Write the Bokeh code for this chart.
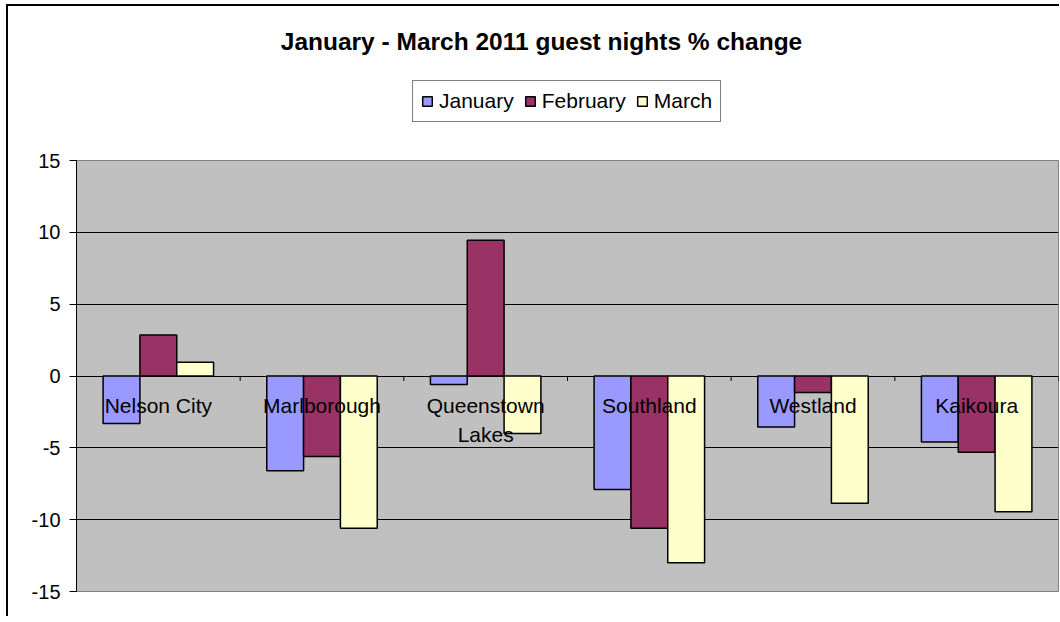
import math
from bokeh.plotting import figure
from bokeh.layouts import column
from bokeh.models import (ColumnDataSource, FactorRange, Range1d, FixedTicker,
                          Legend, LegendItem, Label, PrintfTickFormatter)
from bokeh.transform import dodge
from bokeh.core.properties import value
from bokeh.embed import file_html
from bokeh.resources import INLINE

# ---- data ----
regions = ["Nelson City", "Marlborough", "Queenstown Lakes", "Southland", "Westland", "Kaikoura"]
region_labels = ["Nelson City", "Marlborough", "Queenstown\nLakes", "Southland", "Westland", "Kaikoura"]
january = [-3.3, -6.6, -0.6, -7.9, -3.55, -4.6]
february = [2.85, -5.6, 9.45, -10.6, -1.15, -5.3]
march = [0.95, -10.6, -4.0, -13.0, -8.85, -9.45]
months = ["January", "February", "March"]
y_ticks = [-15, -10, -5, 0, 5, 10, 15]
title_text = "January - March 2011 guest nights % change"

# ---- styles ----
colors = ["#9999FF", "#993366", "#FFFFCC"]
FONT = "Liberation Sans"
bar_w = 0.225
offsets = [-bar_w, 0, bar_w]

src = ColumnDataSource(dict(region=regions, label=region_labels,
                            January=january, February=february, March=march))

# ---------- main chart ----------
p = figure(x_range=FactorRange(factors=regions, range_padding=0),
           y_range=Range1d(y_ticks[0], y_ticks[-1]),
           width=1051, height=480,
           output_backend="svg", toolbar_location=None,
           x_axis_location=None,
           min_border_left=68, min_border_right=1,
           min_border_top=24, min_border_bottom=25,
           background_fill_color="#C0C0C0", border_fill_color="white",
           outline_line_color="#808080", outline_line_width=1)

for m, off, col in zip(months, offsets, colors):
    p.vbar(x=dodge("region", off, range=p.x_range), top=m, bottom=0,
           width=bar_w, source=src, fill_color=col,
           line_color="black", line_width=1.5)

# category ticks between groups on the zero line
p.ray(x=dodge("region", 0.5, range=p.x_range), y=0, length=5,
      length_units="screen", angle=-math.pi / 2, source=src,
      line_color="black", line_width=1)

# category labels at the zero line
p.text(x="region", y=0, text="label", source=src,
       text_align="center", text_baseline="top", y_offset=18,
       text_font=value(FONT), text_font_size="21px", text_color="black",
       text_line_height=1.25)

# y axis
ya = p.yaxis[0]
ya.ticker = FixedTicker(ticks=y_ticks)
ya.formatter = PrintfTickFormatter(format="%d")
ya.major_label_text_font = FONT
ya.major_label_text_font_size = "20px"
ya.major_label_text_color = "black"
ya.major_tick_out = 7
ya.major_tick_in = 0
ya.minor_tick_line_color = None
ya.axis_line_color = "black"
ya.major_tick_line_color = "black"
ya.major_label_standoff = 9

p.ygrid.ticker = FixedTicker(ticks=[t for t in y_ticks if y_ticks[0] < t < y_ticks[-1]])
p.ygrid.grid_line_color = "black"
p.ygrid.grid_line_width = 1
p.xgrid.visible = False

# ---------- header (title + legend); its frame is aligned with the chart's ----------
head = figure(width=1051, height=130, x_range=p.x_range, y_range=Range1d(100, 101),
              output_backend="svg", toolbar_location=None,
              x_axis_location=None, y_axis_location=None, min_border=0,
              background_fill_color="white", border_fill_color="white",
              outline_line_color=None)
head.xgrid.visible = False
head.ygrid.visible = False

title = Label(x=465, y=95, x_units="screen", y_units="screen", text=title_text,
              text_align="center", text_baseline="alphabetic",
              text_font=FONT, text_font_style="bold", text_font_size="24.5px",
              text_color="black")
head.add_layout(title)

# the same series, not drawn in the header, provide the legend swatches
swatches = []
for m, off, col in zip(months, offsets, colors):
    swatches.append(head.vbar(x=dodge("region", off, range=head.x_range), top=m, bottom=0,
                              width=bar_w, source=src, fill_color=col,
                              line_color="black", line_width=1.5, visible=False))

legend = Legend(items=[LegendItem(label=m, renderers=[r]) for m, r in zip(months, swatches)],
                orientation="horizontal", location=(336, 14), margin=0,
                label_text_font=FONT, label_text_font_size="21px",
                label_text_color="black",
                glyph_width=12, glyph_height=12, label_standoff=6,
                spacing=10, padding=8,
                inactive_fill_alpha=0,
                border_line_color="black", border_line_width=1,
                background_fill_color="white", background_fill_alpha=1)
head.add_layout(legend, "center")

layout = column(head, p, spacing=0)
layout.styles = {"border-left": "2px solid black", "border-top": "2px solid black",
                 "margin-left": "6px", "margin-top": "4px"}

open("out.html", "w").write(file_html(layout, INLINE))
